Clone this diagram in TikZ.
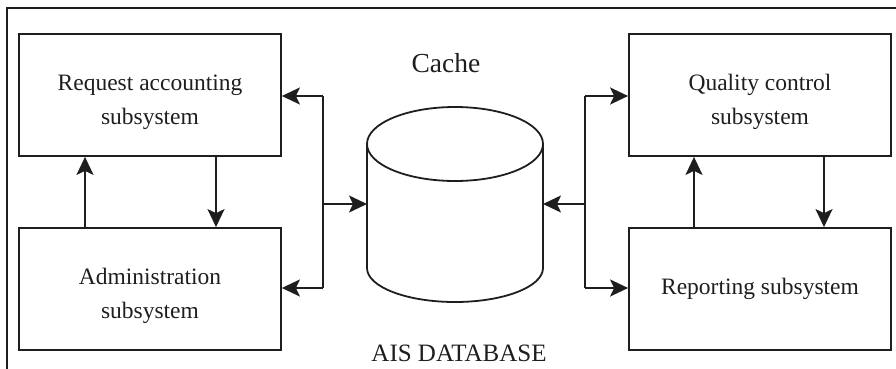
\documentclass[tikz,border=0pt]{standalone}
\usepackage{fontspec}
\setmainfont{Liberation Serif}
\usetikzlibrary{arrows.meta}
\definecolor{ink}{HTML}{1E1E1E}
\newcommand{\lowr}{\rule{0pt}{31pt}}
\tikzset{
  box/.style={draw=ink, line width=1.8pt, minimum width=262pt, minimum height=122pt, inner sep=0pt, align=center, text=ink, font=\fontsize{23.5}{34}\selectfont},
  arr/.style={draw=ink, line width=1.8pt, -{Stealth[length=18pt,width=17pt,inset=4pt]}},
  ln/.style={draw=ink, line width=1.8pt},
  lbl/.style={text=ink, inner sep=0pt}
}
\begin{document}
\begin{tikzpicture}[x=1pt,y=-1pt]
\useasboundingbox (0,0) rectangle (896,369);
% outer frame
\draw[ink, line width=1.5pt] (7,372) -- (7,8) -- (899,8);
% boxes
\node[box] (RA) at (150,95) {\lowr Request accounting\\subsystem};
\node[box] (AD) at (150,289) {\lowr Administration\\subsystem};
\node[box] (QC) at (760,95) {\lowr Quality control\\subsystem};
\node[box] (RP) at (760,289) {Reporting subsystem};
% cylinder
\draw[ln] (367,144) arc[start angle=180, end angle=-180, x radius=88, y radius=37];
\draw[ln] (367,144) -- (367,268) arc[start angle=180, end angle=360, x radius=88, y radius=-34] -- (543,144);
\coordinate (dbL) at (367,204);
\coordinate (dbR) at (543,204);
\node[lbl, font=\fontsize{27.5}{30}\selectfont] (cache) at (446,63) {Cache};
\node[lbl, font=\fontsize{25}{28}\selectfont, anchor=base] (ais) at (459,361) {AIS DATABASE};
% left junction
\coordinate (jL1) at (323,96);
\coordinate (jL2) at (323,288);
\coordinate (jLm) at (323,204);
\draw[ln] (jL1) -- (jL2);
\draw[arr] (jL1) -- (RA.east |- jL1);
\draw[arr] (jL2) -- (AD.east |- jL2);
\draw[arr] (jLm) -- (dbL);
% right junction
\coordinate (jR1) at (585,96);
\coordinate (jR2) at (585,288);
\coordinate (jRm) at (585,204);
\draw[ln] (jR1) -- (jR2);
\draw[arr] (jR1) -- (QC.west |- jR1);
\draw[arr] (jR2) -- (RP.west |- jR2);
\draw[arr] (jRm) -- (dbR);
% vertical arrows
\coordinate (xa) at (85,0);
\coordinate (xb) at (216,0);
\coordinate (xc) at (694,0);
\coordinate (xd) at (824,0);
\draw[arr] (AD.north -| xa) -- (RA.south -| xa);
\draw[arr] (RA.south -| xb) -- (AD.north -| xb);
\draw[arr] (RP.north -| xc) -- (QC.south -| xc);
\draw[arr] (QC.south -| xd) -- (RP.north -| xd);
\end{tikzpicture}
\end{document}
